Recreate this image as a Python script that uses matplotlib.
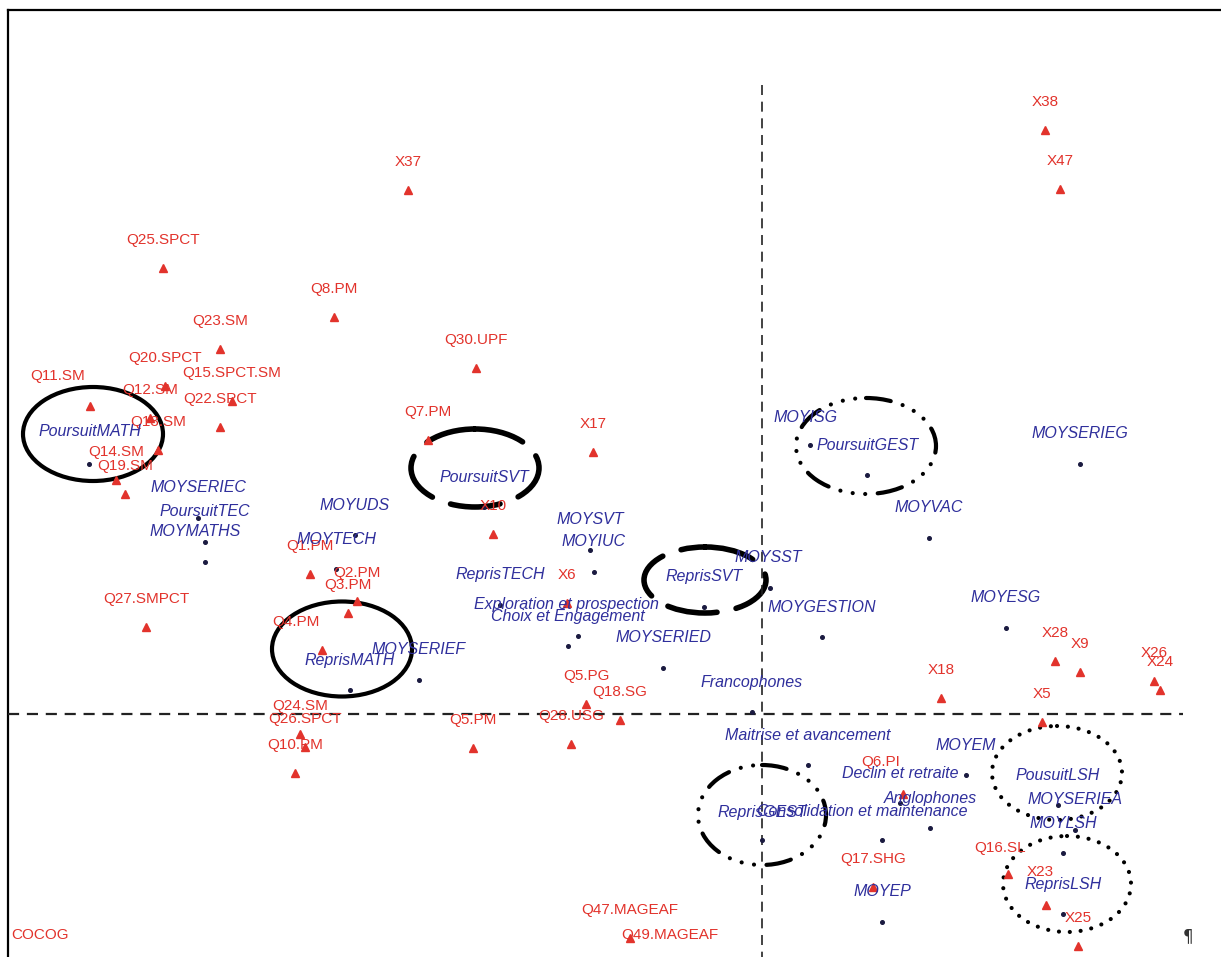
import matplotlib
matplotlib.use("Agg")
import matplotlib.pyplot as plt
from matplotlib.patches import Ellipse

# ── factor map, coordinates (map units, y grows downward) ──
red_names = ["X38", "X47", "X37", "Q25.SPCT", "Q8.PM", "Q23.SM", "Q30.UPF",
             "Q20.SPCT", "Q15.SPCT.SM", "Q11.SM", "Q12.SM", "Q22.SPCT", "Q13.SM",
             "Q14.SM", "Q19.SM", "Q7.PM", "X17", "X10", "Q1.PM", "Q2.PM", "Q3.PM",
             "Q4.PM", "Q24.SM", "Q26.SPCT", "Q10.PM", "Q27.SMPCT", "Q5.PM", "X6",
             "Q5.PG", "Q18.SG", "Q28.USG", "X18", "X28", "X9", "X26", "X24", "X5",
             "Q6.PI", "Q17.SHG", "Q16.SL", "X23", "X25", "Q47.MAGEAF",
             "Q49.MAGEAF", "COCOG"]
red_x = [1045, 1060, 408, 163, 334, 220, 476, 165, 232, 90, 150, 220, 158,
         116, 125, 428, 593, 493, 310, 357, 348, 322, 300, 305, 295, 146, 473,
         567, 586, 620, 571, 941, 1055, 1080, 1154, 1160, 1042, 903, 873, 1008,
         1046, 1078, 630, 670, 40]
red_y = [130, 189, 190, 268, 317, 349, 368, 386, 401, 406, 418, 427, 450,
         480, 494, 440, 452, 534, 574, 601, 613, 650, 734, 747, 773, 627, 748,
         603, 704, 720, 744, 698, 661, 672, 681, 690, 722, 794, 887, 874, 905,
         946, 938, 963, 963]

blue_names = ["PoursuitMATH", "MOYSERIEC", "PoursuitTEC", "MOYMATHS", "MOYUDS",
              "MOYTECH", "PoursuitSVT", "ReprisTECH", "MOYSVT", "MOYIUC",
              "Exploration et prospection", "Choix et Engagement", "MOYSERIED",
              "ReprisMATH", "MOYSERIEF", "ReprisSVT", "MOYSST", "MOYGESTION",
              "Francophones", "Maitrise et avancement", "MOYISG", "PoursuitGEST",
              "MOYVAC", "MOYSERIEG", "MOYESG", "MOYEM", "Declin et retraite",
              "Anglophones", "Consolidation et maintenance", "ReprisGEST",
              "PousuitLSH", "MOYSERIEA", "MOYLSH", "ReprisLSH", "MOYEP"]
blue_x = [89, 198, 205, 205, 355, 336, 484, 500, 590, 594, 578, 568, 663,
          350, 419, 704, 770, 822, 752, 808, 810, 867, 929, 1080, 1006, 966,
          900, 930, 882, 762, 1058, 1075, 1063, 1063, 882]
blue_y = [464, 518, 542, 562, 535, 569, 507, 605, 550, 572, 636, 646, 668,
          690, 680, 607, 588, 637, 712, 765, 445, 475, 538, 464, 628, 775,
          803, 828, 840, 840, 805, 830, 853, 914, 922]

# label nudges where the picture does not follow the default offset
red_nudge = {"Q11.SM": (-32, -2), "Q4.PM": (-26, 0), "Q6.PI": (-22, -4),
             "Q16.SL": (-8, 2), "X23": (-6, -5), "Q26.SPCT": (0, 0)}
blue_nudge = {"PoursuitMATH": (1, -2), "MOYMATHS": (-10, -1), "MOYISG": (-4, 3),
              "Exploration et prospection": (-12, -1), "PoursuitGEST": (1, 0),
              "MOYSST": (-2, 0), "Consolidation et maintenance": (-20, 2),
              "ReprisGEST": (0, 2), "Declin et retraite": (0, 0)}

# highlighted groups: centre, width, height, line style
ell_cx = [93, 475, 342, 705, 866, 762, 1057, 1067]
ell_cy = [434, 468, 649, 580, 446, 815, 773, 884]
ell_w = [140, 128, 140, 122, 140, 128, 130, 128]
ell_h = [94, 78, 95, 66, 96, 100, 94, 96]
ell_kind = ["solid", "dash", "solid", "dash", "dashdot", "dashdot", "dot", "dot"]

RED = "#e2332c"
BLUE = "#2f2f9c"

fig = plt.figure(figsize=(12.21, 9.57), dpi=100)
ax = fig.add_axes([0, 0, 1, 1])
ax.set_xlim(0, 1221)
ax.set_ylim(957, 0)
ax.axis("off")

# frame (left and top edges only visible)
ax.plot([8, 1221], [10, 10], color="black", lw=1.6)
ax.plot([8, 8], [10, 957], color="black", lw=1.6)

# origin axes
ax.plot([762, 762], [85, 957], color="#222222", lw=1.2, dashes=(6, 4))
ax.plot([8, 1183], [714, 714], color="#222222", lw=1.6, dashes=(5, 3.5))

# supplementary points (red triangles) and labels
ax.plot(red_x, red_y, "^", color=RED, ms=5.5, ls="none")
for name, x, y in zip(red_names, red_x, red_y):
    dx, dy = red_nudge.get(name, (0, 0))
    ax.text(x + dx, y - 28 + dy, name, color=RED, fontsize=11,
            family="Liberation Sans", ha="center", va="center")

# active categories (dots) and labels
ax.plot(blue_x, blue_y, "o", color="#1a1a40", ms=2.6, ls="none")
for name, x, y in zip(blue_names, blue_x, blue_y):
    dx, dy = blue_nudge.get(name, (0, 0))
    ax.text(x + dx, y - 30 + dy, name, color=BLUE, fontsize=11.5,
            family="Liberation Sans", style="italic", ha="center", va="center")

styles = {
    "solid": dict(linestyle="-", lw=3.0),
    "dash": dict(linestyle=(0, (9, 3.5)), lw=4.0),
    "dashdot": dict(linestyle=(0, (6, 3, 0.01, 3, 0.01, 3, 0.01, 3)), lw=3.0),
    "dot": dict(linestyle=(0, (0.01, 2.6)), lw=3.0),
}
for cx, cy, w, h, kind in zip(ell_cx, ell_cy, ell_w, ell_h, ell_kind):
    ax.add_patch(Ellipse((cx, cy), w, h, fill=False, edgecolor="black",
                         capstyle="round", joinstyle="round", **styles[kind]))

ax.text(1188, 936, "¶", fontsize=12, color="#333333", ha="center", va="center")

fig.savefig("out.png", dpi=100)
